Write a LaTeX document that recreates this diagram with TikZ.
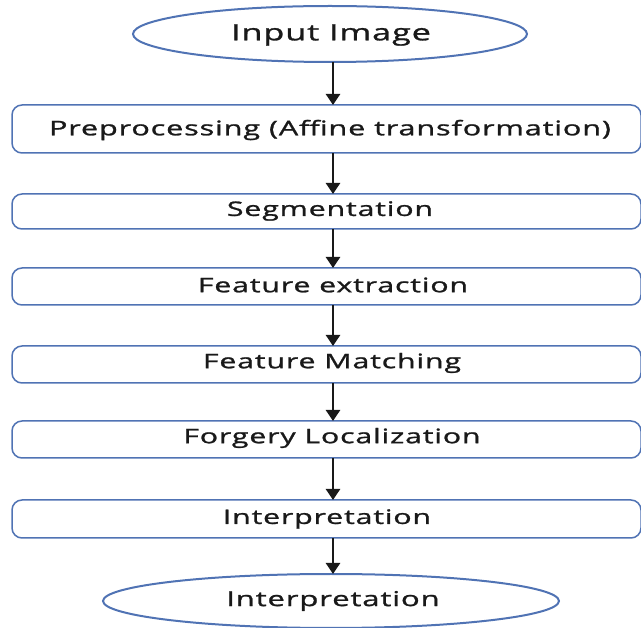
\documentclass[tikz,border=0pt]{standalone}
\usepackage{fontspec}
\setmainfont{Open Sans}[FakeStretch=1.52, LetterSpace=4, FakeBold=1.2]
\usetikzlibrary{shapes.geometric,arrows.meta}
\definecolor{bord}{RGB}{80,115,180}
\definecolor{txt}{RGB}{25,25,25}
\tikzset{
  stepbox/.style={draw=bord, line width=1.5pt, rounded corners=10pt, fill=white},
  oval/.style={draw=bord, line width=2pt, fill=white},
  flow/.style={line width=2.5pt, draw=black!90, -{Triangle[width=14pt,length=11pt]}},
  lbl/.style={text=txt, inner sep=0pt}
}
\begin{document}
\begin{tikzpicture}[x=1pt,y=-1pt]
\useasboundingbox (0,0) rectangle (641,628);
% shapes
\draw[oval] (330,34) ellipse [x radius=197, y radius=28];
\node[lbl, font=\fontsize{22.5}{26}\selectfont] (in) at (331,35) {Input Image};

\draw[stepbox] (12,105) rectangle (641,153);
\node[lbl, font=\fontsize{20.2}{24}\selectfont] (pre) at (330,130) {Preprocessing (Affine transformation)};

\draw[stepbox] (12,194) rectangle (641,229);
\node[lbl, font=\fontsize{20}{24}\selectfont] (seg) at (330,211) {Segmentation};

\draw[stepbox] (12,268) rectangle (641,305);
\node[lbl, font=\fontsize{20}{24}\selectfont] (fe) at (333,285) {Feature extraction};

\draw[stepbox] (12,346) rectangle (641,383);
\node[lbl, font=\fontsize{20}{24}\selectfont] (fm) at (332,363) {Feature Matching};

\draw[stepbox] (12,421) rectangle (641,458);
\node[lbl, font=\fontsize{20}{24}\selectfont] (fl) at (332,438) {Forgery Localization};

\draw[stepbox] (12,500) rectangle (641,538);
\node[lbl, font=\fontsize{20}{24}\selectfont] (int) at (327,519) {Interpretation};

\draw[oval] (331,601) ellipse [x radius=228, y radius=27];
\node[lbl, font=\fontsize{20.5}{24}\selectfont] (out) at (333,601) {Interpretation};

% connectors
\coordinate (a1s) at (333,62);  \coordinate (a1e) at (333,105);
\coordinate (a2s) at (333,153); \coordinate (a2e) at (333,194);
\coordinate (a3s) at (333,229); \coordinate (a3e) at (333,268);
\coordinate (a4s) at (333,305); \coordinate (a4e) at (333,346);
\coordinate (a5s) at (333,383); \coordinate (a5e) at (333,421);
\coordinate (a6s) at (333,458); \coordinate (a6e) at (333,500);
\coordinate (a7s) at (333,538); \coordinate (a7e) at (333,574);
\foreach \i in {1,...,7} \draw[flow] (a\i s) -- (a\i e);
\end{tikzpicture}
\end{document}
